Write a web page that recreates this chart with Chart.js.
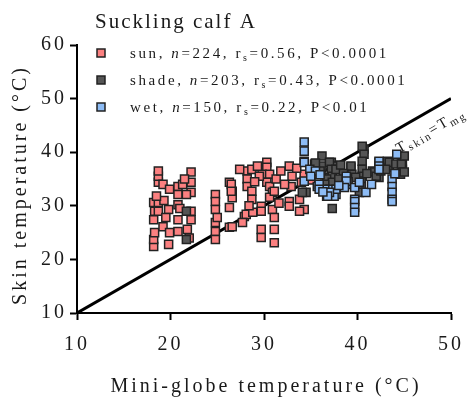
<!DOCTYPE html>
<html lang="en">
<head>
<meta charset="UTF-8">
<title>Suckling calf A</title>
<script src="https://cdn.jsdelivr.net/npm/chart.js@4.4.0/dist/chart.umd.min.js"></script>
<style>
  body { margin: 0; background: #fff; }
</style>
</head>
<body>
<canvas id="myChart" width="474" height="399"></canvas>
<script>
// skin vs mini-globe temperature, one calf, three conditions
const chartTitle = 'Suckling calf A';
const xTitle = 'Mini-globe temperature (°C)';
const yTitle = 'Skin temperature (°C)';
const xTicks = [10, 20, 30, 40, 50];
const yTicks = [10, 20, 30, 40, 50, 60];

const seriesNames = ['sun', 'shade', 'wet'];
const seriesN = [224, 203, 150];
const seriesRs = ['0.56', '0.43', '0.22'];
const seriesP = ['0.0001', '0.0001', '0.01'];
const seriesColors = ['#fb8080', '#555555', '#8dbcf5'];

const sunX = [18.2, 18.2, 18.3, 18.2, 18.3, 18.2, 18.7, 18.7, 18.7, 18.7, 18.7, 19.2, 19.2, 19.9, 19.9, 19.8, 19.8,
  20.8, 20.8, 20.8, 20.8, 20.8, 21.8, 22.2, 22.2, 22.2, 22.2, 22.2, 21.7, 21.3, 24.8, 24.8, 24.8, 24.8, 24.8, 24.8,
  26.3, 26.3, 26.3, 26.6, 26.6, 28.2, 28.7, 28.2, 28.2, 28.7, 28.7, 30.3, 30.3, 29.8, 30.6, 30.3, 30.6, 30.9, 30.6,
  31.1, 31.3, 29.3, 29.5, 27.9, 28.1, 28.8, 29.7, 29.7, 30.9, 31.1, 31.1, 31.1, 29.7, 29.7, 27.7, 26.6, 26.5, 26.5,
  32.7, 33.0, 32.9, 32.7, 32.7, 34.3, 34.3, 34.0, 34.3, 33.8, 35.7, 36.1, 27.4, 33.8, 35.4, 19.3, 18.5, 21.0, 21.5,
  19.5, 22.0, 29.0, 31.8, 32.2, 33.5, 35.0, 28.4, 25.0, 31.6];
const sunY = [22.4, 23.7, 25.0, 27.4, 29.0, 30.6, 30.6, 29.0, 34.4, 35.5, 36.5, 26.1, 34.0, 33.1, 25.0, 22.8, 29.3,
  33.6, 32.1, 30.2, 27.4, 25.2, 25.6, 36.3, 34.4, 32.5, 29.0, 27.4, 32.1, 34.0, 32.1, 30.8, 29.3, 26.9, 25.2, 23.7,
  29.7, 26.0, 34.4, 32.7, 31.5, 36.5, 36.8, 35.0, 33.6, 32.7, 31.2, 38.1, 37.2, 35.9, 35.9, 34.4, 33.6, 32.5, 31.6,
  32.7, 35.0, 37.4, 35.5, 28.0, 28.4, 28.8, 29.9, 29.0, 29.3, 27.8, 25.6, 23.1, 25.6, 24.1, 26.9, 26.1, 34.0, 32.7,
  37.4, 35.5, 33.6, 30.8, 29.9, 38.3, 35.9, 34.4, 29.3, 29.0, 35.9, 35.9, 36.8, 31.2, 37.8, 31.0, 31.8, 29.5, 35.0,
  27.8, 24.0, 34.5, 36.5, 34.0, 37.0, 34.8, 30.0, 27.8, 30.5];

const shadeX = [21.7, 21.7, 34.5, 34.1, 36.2, 36.2, 37.2, 37.0, 37.8, 37.3, 40.7, 40.7, 40.5, 40.5, 40.5, 40.4, 40.5,
  37.0, 37.2, 37.3, 36.7, 37.5, 37.3, 37.7, 39.3, 39.3, 39.4, 39.8, 40.4, 41.6, 41.8, 42.3, 43.2, 43.4, 43.4, 44.1,
  44.8, 44.8, 44.6, 44.7, 45.0, 45.0, 40.2, 38.5, 38.0, 36.0, 35.5, 41.0, 42.0, 42.5, 43.0, 39.0, 38.2, 36.5];
const shadeY = [29.0, 23.7, 32.5, 32.5, 39.3, 37.4, 38.1, 35.3, 37.4, 29.5, 40.6, 39.6, 38.3, 36.8, 35.5, 34.6, 41.1,
  38.1, 36.8, 35.5, 35.0, 34.0, 34.4, 36.8, 37.2, 37.4, 35.9, 35.3, 33.6, 36.5, 36.3, 35.3, 38.3, 37.2, 38.1, 37.8,
  38.1, 36.8, 35.9, 37.8, 39.3, 36.3, 32.5, 36.0, 35.0, 36.5, 38.0, 36.0, 35.5, 36.5, 36.8, 34.5, 37.6, 34.0];

const wetX = [34.3, 34.3, 34.3, 34.9, 35.7, 36.7, 37.0, 37.7, 34.3, 36.5, 37.5, 37.7, 38.8, 38.8, 38.8, 38.6, 39.7,
  39.7, 39.7, 39.7, 39.7, 40.9, 42.3, 42.3, 42.3, 42.3, 43.7, 43.7, 43.7, 43.7, 43.7, 44.2, 37.0, 35.9, 35.9, 36.8,
  35.5, 36.0, 35.0, 38.0, 41.5, 40.2, 36.3, 44.0];
const wetY = [41.9, 40.2, 38.1, 36.8, 33.6, 31.8, 33.1, 32.1, 34.6, 33.1, 31.8, 33.1, 35.5, 34.0, 34.6, 33.4, 33.4,
  31.2, 30.8, 29.7, 28.8, 32.5, 38.1, 38.3, 37.4, 36.8, 35.0, 33.6, 32.5, 31.2, 30.8, 39.6, 32.5, 34.0, 33.1, 31.8,
  36.5, 35.8, 35.5, 33.8, 34.0, 34.4, 32.6, 36.0];

// reference line where skin temperature equals globe temperature
const lineX = [10, 50];
const lineY = [10, 50];

const serif = '"Liberation Serif", "Times New Roman", serif';
const ink = '#1a1a1a';

function pts(xs, ys) {
  return xs.map((x, i) => ({ x: x, y: ys[i] }));
}

function markerSet(i, xs, ys, order) {
  return {
    type: 'scatter',
    label: seriesNames[i],
    data: pts(xs, ys),
    pointStyle: 'rect',
    pointRadius: 5.7,
    pointBackgroundColor: seriesColors[i],
    pointBorderColor: '#222',
    pointBorderWidth: 1.5,
    order: order
  };
}

// draws a list of text runs left to right, each run with its own font and shift
function drawRuns(ctx, x, y, runs) {
  runs.forEach(r => {
    ctx.font = r.font;
    ctx.fillText(r.t, x, y + (r.dy || 0));
    x += ctx.measureText(r.t).width;
  });
}

const textLayer = {
  id: 'textLayer',
  beforeDraw(chart) {
    chart.ctx.letterSpacing = '3px';
  },
  afterDraw(chart) {
    const ctx = chart.ctx;
    const xs = chart.scales.x, ys = chart.scales.y;
    ctx.save();
    ctx.fillStyle = ink;
    ctx.textAlign = 'left';
    ctx.textBaseline = 'alphabetic';

    ctx.letterSpacing = '2px';
    ctx.font = '21px ' + serif;
    ctx.fillText(chartTitle, 95, 28);

    // axis titles
    ctx.letterSpacing = '3px';
    ctx.font = '20px ' + serif;
    ctx.textAlign = 'center';
    ctx.fillText(xTitle, (xs.left + xs.right) / 2 + 2, 392);
    ctx.save();
    ctx.translate(26, 185);
    ctx.rotate(-Math.PI / 2);
    ctx.fillText(yTitle, 0, 0);
    ctx.restore();
    ctx.textAlign = 'left';

    // legend
    const big = '15px ' + serif;
    const ital = 'italic 15px ' + serif;
    const small = '10px ' + serif;
    ctx.letterSpacing = '2.6px';
    seriesNames.forEach((name, i) => {
      const cy = 53 + i * 27;
      ctx.fillStyle = seriesColors[i];
      ctx.fillRect(97, cy - 4, 8, 8);
      ctx.strokeStyle = '#222';
      ctx.lineWidth = 1.5;
      ctx.strokeRect(97, cy - 4, 8, 8);
      ctx.fillStyle = ink;
      drawRuns(ctx, 130, cy + 5, [
        { t: name + ', ', font: big },
        { t: 'n', font: ital },
        { t: '=' + seriesN[i] + ', r', font: big },
        { t: 's', font: small, dy: 3 },
        { t: '=' + seriesRs[i] + ', P<' + seriesP[i], font: big }
      ]);
    });

    // label along the identity line
    const x0 = xs.getPixelForValue(lineX[0]), y0 = ys.getPixelForValue(lineY[0]);
    const x1 = xs.getPixelForValue(lineX[1]), y1 = ys.getPixelForValue(lineY[1]);
    const ang = Math.atan2(y1 - y0, x1 - x0);
    ctx.save();
    ctx.translate(xs.getPixelForValue(43.3), ys.getPixelForValue(43.3));
    ctx.rotate(ang);
    ctx.letterSpacing = '2px';
    drawRuns(ctx, 0, 22, [
      { t: 'T', font: '15px ' + serif },
      { t: 'skin', font: '11px ' + serif, dy: 3 },
      { t: '=', font: '15px ' + serif },
      { t: 'T', font: '15px ' + serif },
      { t: 'mg', font: '11px ' + serif, dy: 3 }
    ]);
    ctx.restore();

    ctx.restore();
  }
};

function axis(min, max, ticks) {
  return {
    type: 'linear',
    min: min,
    max: max,
    afterBuildTicks: s => { s.ticks = ticks.map(v => ({ value: v })); },
    ticks: {
      color: ink,
      font: { family: serif, size: 20 },
      padding: 3
    },
    grid: {
      drawOnChartArea: false,
      drawTicks: true,
      tickLength: 7,
      tickWidth: 2,
      tickColor: '#000'
    },
    border: { display: true, color: '#000', width: 2 }
  };
}

const xAxis = axis(10, 50, xTicks);
xAxis.ticks.padding = 13;
xAxis.afterFit = s => { s.height = 86; };
const yAxis = axis(10, 60, yTicks);
yAxis.afterFit = s => { s.width = 77; };

const ctx = document.getElementById('myChart').getContext('2d');
new Chart(ctx, {
  type: 'scatter',
  data: {
    datasets: [
      markerSet(2, wetX, wetY, 1),
      markerSet(1, shadeX, shadeY, 2),
      markerSet(0, sunX, sunY, 3),
      {
        type: 'line',
        data: pts(lineX, lineY),
        borderColor: '#000',
        borderWidth: 3,
        pointRadius: 0,
        order: 4
      }
    ]
  },
  options: {
    responsive: false,
    animation: false,
    layout: { padding: { top: 45, right: 22, left: 0, bottom: 0 } },
    scales: { x: xAxis, y: yAxis },
    plugins: {
      legend: { display: false },
      tooltip: { enabled: false }
    }
  },
  plugins: [textLayer]
});
</script>
</body>
</html>
